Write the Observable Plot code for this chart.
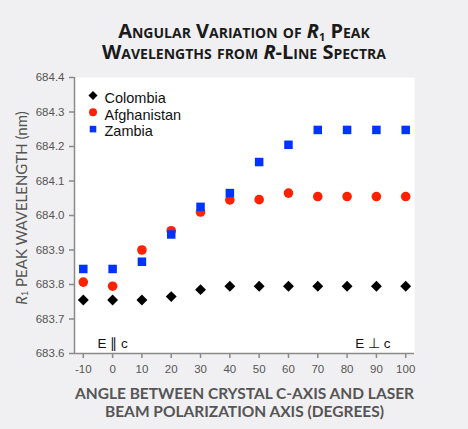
<!DOCTYPE html>
<html>
<head>
<meta charset="utf-8">
<script src="https://cdn.jsdelivr.net/npm/d3@7"></script>
<script src="https://cdn.jsdelivr.net/npm/@observablehq/plot@0.6"></script>
<style>
  html, body { margin: 0; padding: 0; background: #f0f0f2; }
  #wrap { width: 468px; height: 429px; position: relative; background: #f0f0f2; overflow: hidden; }
  #title { width: 468px; height: 66px; box-sizing: border-box; padding: 20px 0 0 20px; text-align: center;
    font-family: "Open Sans", Lato, sans-serif; font-weight: 700; font-variant: small-caps; font-size: 20px;
    line-height: 21px; color: #1a1a1a; }
  #title div { height: 21px; white-space: nowrap; }
  #title sub { font-size: 11px; position: relative; top: 3px; vertical-align: baseline; line-height: 0; }
  svg { display: block; }
</style>
</head>
<body>
<div id="wrap">
  <div id="title"><div>Angular Variation of <i>R</i><sub>1</sub> Peak</div><div>Wavelengths from <i>R</i>-Line Spectra</div></div>
  <div id="chart"></div>
</div>
<script>
const angles = [-10, 0, 10, 20, 30, 40, 50, 60, 70, 80, 90, 100];
const colombia    = [683.755, 683.755, 683.755, 683.765, 683.785, 683.795, 683.795, 683.795, 683.795, 683.795, 683.795, 683.795];
const afghanistan = [683.807, 683.795, 683.900, 683.956, 684.010, 684.045, 684.046, 684.065, 684.055, 684.055, 684.055, 684.055];
const zambia      = [683.845, 683.845, 683.866, 683.945, 684.025, 684.065, 684.155, 684.205, 684.248, 684.248, 684.248, 684.248];
const seriesNames = ["Colombia", "Afghanistan", "Zambia"];
const seriesValues = [colombia, afghanistan, zambia];
const seriesSymbols = ["diamond2", "circle", "square"];
const seriesColors = ["#000000", "#ff2100", "#0033ff"];
const xTicks = [-10, 0, 10, 20, 30, 40, 50, 60, 70, 80, 90, 100];
const yTicks = [683.6, 683.7, 683.8, 683.9, 684.0, 684.1, 684.2, 684.3, 684.4];
const xDomain = [-13, 103];
const yDomain = [683.6, 684.4];
const xLabelLines = ["ANGLE BETWEEN CRYSTAL C-AXIS AND LASER", "BEAM POLARIZATION AXIS (DEGREES)"];
const yLabelParts = ["R", "1", " PEAK WAVELENGTH (nm)"];
const annotations = ["E \u2225 c", "E \u22a5 c"];

const rows = [];
seriesNames.forEach((s, i) => angles.forEach((a, j) => rows.push({series: s, angle: a, value: seriesValues[i][j]})));

const symR = {diamond2: 4.9, circle: 4.8, square: 4.8};
const legR = {diamond2: 4.1, circle: 4.0, square: 3.7};
const tickFont = "Liberation Sans, Arial, sans-serif";

const marks = [
  Plot.frame({fill: "white", stroke: null}),
  Plot.ruleX([xDomain[0]], {stroke: "#8a8a8a", strokeWidth: 1.5}),
  Plot.ruleY([yDomain[0]], {stroke: "#8a8a8a", strokeWidth: 1.5}),
  Plot.axisX({ticks: xTicks, tickSize: 5, tickPadding: 6, label: null, tickFormat: d => String(d),
    stroke: "#8a8a8a", strokeWidth: 1.5, fill: "#555", fontSize: 11.5, fontFamily: tickFont}),
  Plot.axisY({ticks: yTicks, tickSize: 5, tickPadding: 5, label: null, tickFormat: d3.format(".1f"),
    stroke: "#8a8a8a", strokeWidth: 1.5, fill: "#555", fontSize: 11.5, fontFamily: tickFont})
];
seriesNames.forEach((s, i) => {
  marks.push(Plot.dot(rows.filter(d => d.series === s), {
    x: "angle", y: "value", symbol: () => seriesSymbols[i], r: symR[seriesSymbols[i]],
    fill: seriesColors[i], stroke: null
  }));
  marks.push(Plot.dot([s], {frameAnchor: "top-left", dx: 18.5, dy: 18 + i * 16.8,
    symbol: () => seriesSymbols[i], r: legR[seriesSymbols[i]], fill: seriesColors[i], stroke: null}));
  marks.push(Plot.text([s], {frameAnchor: "top-left", dx: 30, dy: 15 + i * 16.8, text: d => d,
    textAnchor: "start", fontSize: 14.5, fill: "#111", fontFamily: tickFont}));
});
marks.push(Plot.text([annotations[0]], {frameAnchor: "bottom-left", dx: 23, dy: -6, text: d => d, textAnchor: "start",
  fontSize: 13.5, fill: "#111", fontFamily: tickFont}));
marks.push(Plot.text([annotations[1]], {frameAnchor: "bottom-right", dx: -24, dy: -6, text: d => d, textAnchor: "end",
  fontSize: 13.5, fill: "#111", fontFamily: tickFont}));
xLabelLines.forEach((l, i) => {
  marks.push(Plot.text([l], {frameAnchor: "bottom", dy: 45 + i * 18, text: d => d, fontSize: 15.5, fontWeight: 700,
    fill: "#555", fontFamily: "Lato, 'Open Sans', sans-serif"}));
});

const plot = Plot.plot({
  width: 468, height: 363,
  marginTop: 11, marginBottom: 76, marginLeft: 74, marginRight: 54,
  style: {background: "transparent", overflow: "visible"},
  x: {domain: xDomain},
  y: {domain: yDomain},
  symbol: {type: "identity"},
  marks
});
document.getElementById("chart").appendChild(plot);

// Y axis label with italic R and subscript 1
const svg = d3.select(plot);
const yl = svg.append("text")
  .attr("transform", "translate(23,142) rotate(-90)")
  .attr("text-anchor", "middle")
  .attr("dominant-baseline", "middle")
  .attr("font-family", "Lato, 'Open Sans', sans-serif")
  .attr("font-size", 15)
  .attr("fill", "#555");
yl.append("tspan").attr("font-style", "italic").text(yLabelParts[0]);
yl.append("tspan").attr("font-size", 9).attr("dy", 3).text(yLabelParts[1]);
yl.append("tspan").attr("dy", -3).text(yLabelParts[2]);
</script>
</body>
</html>
